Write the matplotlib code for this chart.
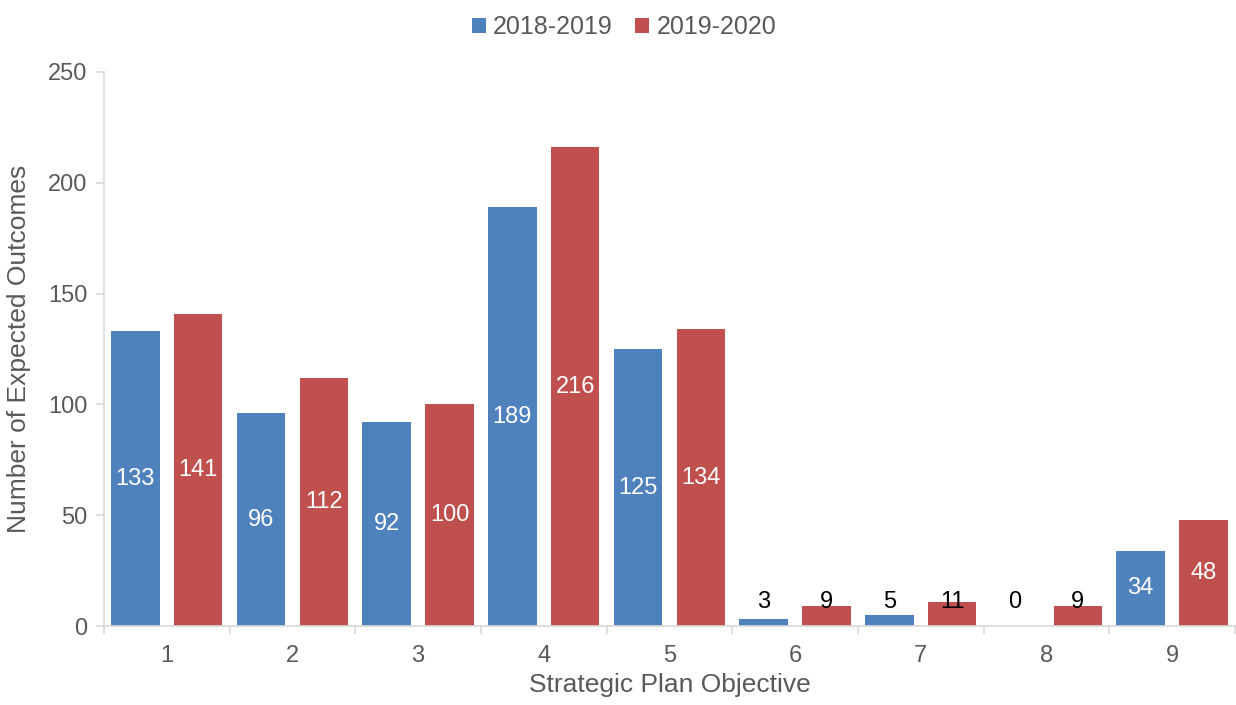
import numpy as np
import matplotlib.pyplot as plt

plt.rcParams['font.family'] = ['Liberation Sans', 'DejaVu Sans']

objectives = ["1", "2", "3", "4", "5", "6", "7", "8", "9"]
y2018 = [133, 96, 92, 189, 125, 3, 5, 0, 34]
y2020 = [141, 112, 100, 216, 134, 9, 11, 9, 48]

blue = "#4F81BD"
red = "#C0504D"
grey = "#595959"
axis_grey = "#D9D9D9"

fig = plt.figure(figsize=(12.36, 7.05), dpi=100)
ax = fig.add_axes([0.0841, 0.112, 0.915, 0.786])

x = np.arange(len(objectives))
w = 0.385
off = 0.25
b1 = ax.bar(x - off, y2018, w, color=blue, label="2018-2019")
b2 = ax.bar(x + off, y2020, w, color=red, label="2019-2020")

# data labels: centred in bar, small ones pushed up in black
for bars, vals in [(b1, y2018), (b2, y2020)]:
    for r, v in zip(bars, vals):
        cx = r.get_x() + r.get_width() / 2
        if v < 20:
            ax.text(cx, 11, str(v), ha="center", va="center", fontsize=17, color="black")
        else:
            ax.text(cx, v / 2, str(v), ha="center", va="center", fontsize=17, color="white")

ax.set_xlim(-0.5, len(objectives) - 0.5)
ax.set_ylim(0, 250)
ax.set_yticks(range(0, 251, 50))
ax.set_xticks(x)
ax.set_xticklabels(objectives)
ax.set_xticks(np.arange(-0.5, len(objectives)), minor=True)
ax.tick_params(axis="x", which="major", length=0, labelsize=17, colors=grey, pad=14)
ax.tick_params(axis="x", which="minor", length=6, color=axis_grey, width=1.2)
ax.tick_params(axis="y", length=6, color=axis_grey, width=1.2, labelsize=17,
               labelcolor=grey, pad=6)

for s in ["top", "right"]:
    ax.spines[s].set_visible(False)
for s in ["left", "bottom"]:
    ax.spines[s].set_color(axis_grey)
    ax.spines[s].set_linewidth(1.2)

ax.set_xlabel("Strategic Plan Objective", fontsize=19, color=grey, labelpad=4)
ax.set_ylabel("Number of Expected Outcomes", fontsize=19, color=grey, labelpad=12)

fig.legend(loc="upper center", bbox_to_anchor=(0.505, 1.0), ncol=2, frameon=False,
           fontsize=18, labelcolor=grey, handlelength=0.55, handleheight=0.55,
           handletextpad=0.3, columnspacing=0.9, borderaxespad=0.2,
           handles=[b1, b2])

fig.savefig("out.png", dpi=100)
